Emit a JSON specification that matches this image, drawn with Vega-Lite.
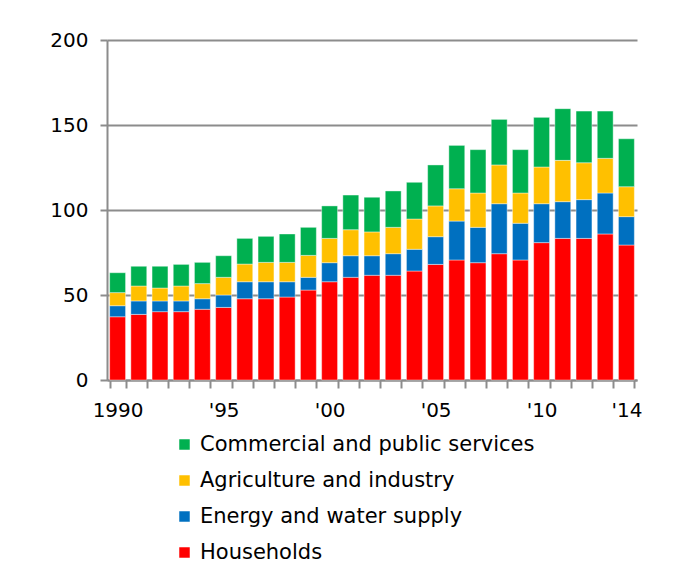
{
  "$schema": "https://vega.github.io/schema/vega-lite/v6.json",
  "autosize": {"type": "none"},
  "width": 530,
  "height": 340,
  "padding": {"left": 107, "top": 40, "right": 47, "bottom": 191},
  "background": "white",
  "data": {
    "values": [
      {"year": "1990", "Households": 37.2, "Energy and water supply": 6.5, "Agriculture and industry": 7.7, "Commercial and public services": 11.7},
      {"year": "1991", "Households": 38.6, "Energy and water supply": 7.9, "Agriculture and industry": 8.8, "Commercial and public services": 11.6},
      {"year": "1992", "Households": 40.2, "Energy and water supply": 6.3, "Agriculture and industry": 7.6, "Commercial and public services": 12.8},
      {"year": "1993", "Households": 40.2, "Energy and water supply": 6.3, "Agriculture and industry": 8.8, "Commercial and public services": 12.7},
      {"year": "1994", "Households": 41.6, "Energy and water supply": 6.2, "Agriculture and industry": 8.9, "Commercial and public services": 12.5},
      {"year": "1995", "Households": 42.7, "Energy and water supply": 7.3, "Agriculture and industry": 10.4, "Commercial and public services": 12.7},
      {"year": "1996", "Households": 47.8, "Energy and water supply": 10.0, "Agriculture and industry": 10.4, "Commercial and public services": 15.1},
      {"year": "1997", "Households": 47.8, "Energy and water supply": 10.0, "Agriculture and industry": 11.4, "Commercial and public services": 15.3},
      {"year": "1998", "Households": 48.8, "Energy and water supply": 9.0, "Agriculture and industry": 11.4, "Commercial and public services": 16.7},
      {"year": "1999", "Households": 52.9, "Energy and water supply": 7.5, "Agriculture and industry": 12.9, "Commercial and public services": 16.5},
      {"year": "2000", "Households": 57.8, "Energy and water supply": 11.2, "Agriculture and industry": 14.3, "Commercial and public services": 19.1},
      {"year": "2001", "Households": 60.4, "Energy and water supply": 12.7, "Agriculture and industry": 15.3, "Commercial and public services": 20.4},
      {"year": "2002", "Households": 61.6, "Energy and water supply": 11.5, "Agriculture and industry": 14.0, "Commercial and public services": 20.4},
      {"year": "2003", "Households": 61.6, "Energy and water supply": 12.7, "Agriculture and industry": 15.5, "Commercial and public services": 21.4},
      {"year": "2004", "Households": 64.1, "Energy and water supply": 12.8, "Agriculture and industry": 17.8, "Commercial and public services": 21.6},
      {"year": "2005", "Households": 68.0, "Energy and water supply": 16.3, "Agriculture and industry": 18.1, "Commercial and public services": 24.1},
      {"year": "2006", "Households": 70.6, "Energy and water supply": 22.9, "Agriculture and industry": 19.0, "Commercial and public services": 25.5},
      {"year": "2007", "Households": 69.0, "Energy and water supply": 20.8, "Agriculture and industry": 20.2, "Commercial and public services": 25.5},
      {"year": "2008", "Households": 74.3, "Energy and water supply": 29.4, "Agriculture and industry": 22.8, "Commercial and public services": 26.8},
      {"year": "2009", "Households": 70.6, "Energy and water supply": 21.6, "Agriculture and industry": 17.8, "Commercial and public services": 25.5},
      {"year": "2010", "Households": 80.8, "Energy and water supply": 22.9, "Agriculture and industry": 21.6, "Commercial and public services": 29.2},
      {"year": "2011", "Households": 83.3, "Energy and water supply": 21.6, "Agriculture and industry": 24.3, "Commercial and public services": 30.4},
      {"year": "2012", "Households": 83.3, "Energy and water supply": 22.8, "Agriculture and industry": 21.7, "Commercial and public services": 30.4},
      {"year": "2013", "Households": 85.9, "Energy and water supply": 24.1, "Agriculture and industry": 20.4, "Commercial and public services": 27.8},
      {"year": "2014", "Households": 79.4, "Energy and water supply": 16.7, "Agriculture and industry": 17.6, "Commercial and public services": 28.2}
    ]
  },
  "transform": [
    {"fold": ["Households", "Energy and water supply", "Agriculture and industry", "Commercial and public services"], "as": ["sector", "value"]},
    {"calculate": "indexof(['Households','Energy and water supply','Agriculture and industry','Commercial and public services'], datum.sector)", "as": "ord"}
  ],
  "mark": {"type": "bar", "stroke": "#ffffff", "strokeWidth": 0.8, "strokeOpacity": 0.5},
  "encoding": {
    "x": {
      "field": "year",
      "type": "ordinal",
      "scale": {"paddingInner": 0.25, "paddingOuter": 0.125},
      "axis": {
        "title": null,
        "labelAngle": 0,
        "tickBand": "extent",
        "labelExpr": "datum.label == '1990' ? '1990' : (indexof(['1995','2000','2005','2010','2014'], datum.label) >= 0 ? \"'\" + slice(datum.label, 2) : '')",
        "labelOverlap": false,
        "labelFont": "DejaVu Sans",
        "labelFontSize": 20,
        "labelColor": "#000000",
        "labelPadding": 12,
        "tickSize": 8,
        "tickColor": "#8c8c8c",
        "tickWidth": 2,
        "domainColor": "#8c8c8c",
        "domainWidth": 2,
        "grid": false
      }
    },
    "y": {
      "field": "value",
      "type": "quantitative",
      "stack": "zero",
      "scale": {"domain": [0, 200]},
      "axis": {
        "title": null,
        "values": [0, 50, 100, 150, 200],
        "labelFont": "DejaVu Sans",
        "labelFontSize": 20,
        "labelColor": "#000000",
        "labelPadding": 12,
        "tickSize": 7,
        "tickColor": "#8c8c8c",
        "tickWidth": 2,
        "domainColor": "#8c8c8c",
        "domainWidth": 2,
        "grid": true,
        "gridColor": "#8c8c8c",
        "gridWidth": 2
      }
    },
    "color": {
      "field": "sector",
      "type": "nominal",
      "scale": {
        "domain": ["Commercial and public services", "Agriculture and industry", "Energy and water supply", "Households"],
        "range": ["#00B050", "#FFC000", "#0070C0", "#FF0000"]
      },
      "legend": {
        "title": null,
        "orient": "none",
        "legendX": 67,
        "legendY": 394,
        "direction": "vertical",
        "symbolType": "square",
        "symbolSize": 110,
        "symbolStrokeWidth": 0,
        "labelFont": "DejaVu Sans",
        "labelFontSize": 21,
        "labelColor": "#000000",
        "labelOffset": 5,
        "rowPadding": 14,
        "labelLimit": 500
      }
    },
    "order": {"field": "ord", "type": "quantitative", "sort": "ascending"}
  },
  "config": {"view": {"stroke": null}}
}
